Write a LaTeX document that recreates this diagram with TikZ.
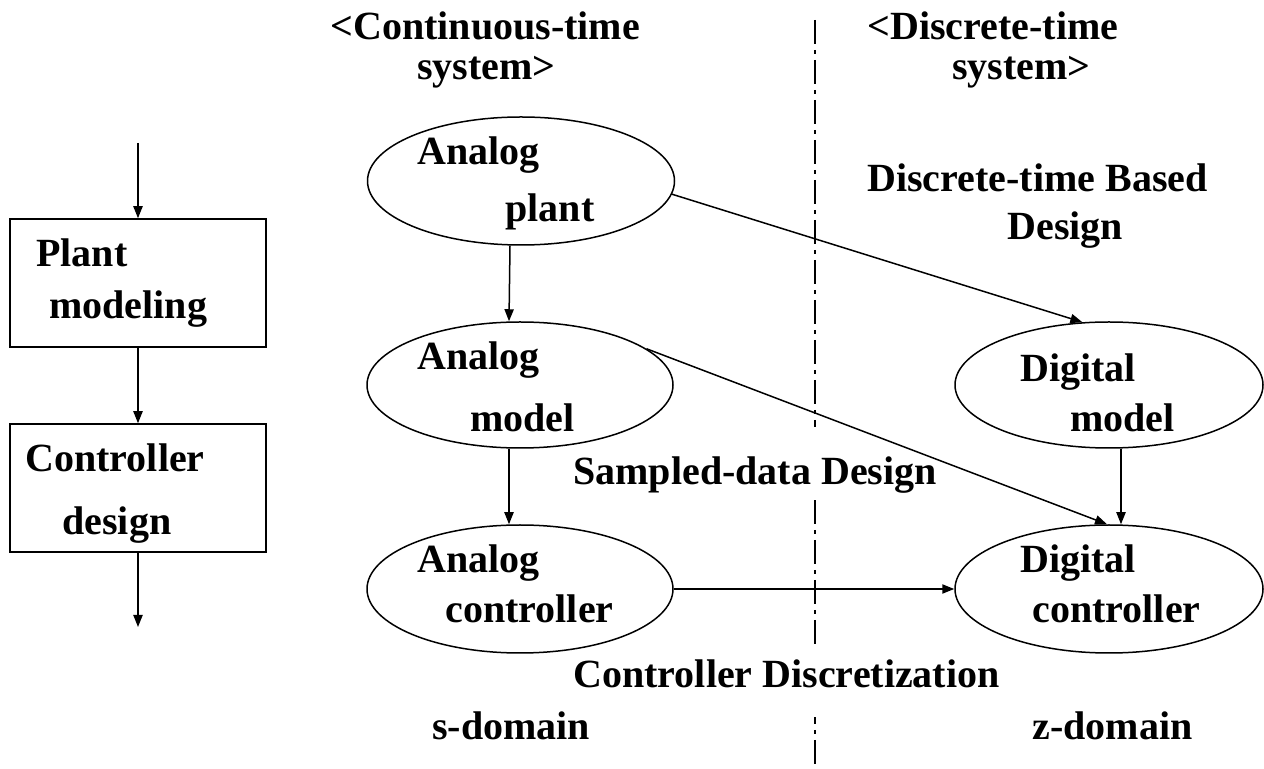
\documentclass[tikz,border=0pt]{standalone}
\usepackage{fontspec}
\setmainfont{Liberation Serif}
\usetikzlibrary{shapes.geometric,arrows.meta}
\tikzset{
  lbl/.style={inner sep=0pt, anchor=base west, font=\fontsize{20pt}{24pt}\selectfont\bfseries},
  knock/.style={fill=white},
  oval/.style={draw, ellipse, line width=0.75pt, inner sep=0pt},
  blk/.style={draw, rectangle, line width=0.75pt, inner sep=0pt},
  arr/.style={line width=0.75pt, -{Triangle[length=6pt,width=4.6pt]}},
  divider/.style={line width=0.75pt, dash pattern=on 12pt off 3pt on 2pt off 3pt}
}
\begin{document}
\begin{tikzpicture}[x=0.5pt, y=-0.5pt]
\useasboundingbox (0,0) rectangle (1264,769);
% divider
\coordinate (dtop) at (815,20);
\coordinate (dbot) at (815,769);
\draw[divider] (dtop) -- (dbot);
% labels that mask the divider
\node[lbl, knock, text height=29pt, text depth=7.5pt] (l2) at (573,485) {Sampled-data Design};
\node[lbl, knock, text height=20pt, text depth=14.5pt] (l3) at (573,688) {Controller Discretization};
% left column
\coordinate (in) at (138,143);
\coordinate (out) at (138,627);
\node[blk, minimum width=128pt, minimum height=64pt] (b1) at (138,283) {};
\node[blk, minimum width=128pt, minimum height=64pt] (b2) at (138,488) {};
\node[lbl] (b1a) at (36,267) {Plant};
\node[lbl] (b1b) at (49,319) {modeling};
\node[lbl] (b2a) at (25,472) {Controller};
\node[lbl] (b2b) at (62,535) {design};
\draw[arr] (in) -- (b1.north);
\draw[arr] (b1.south) -- (b2.north);
\draw[arr] (b2.south) -- (out);
% ellipses
\node[oval, minimum width=153.5pt, minimum height=64pt] (ap) at (521,181) {};
\node[oval, minimum width=153pt, minimum height=63pt] (am) at (520,385) {};
\node[oval, minimum width=153pt, minimum height=64pt] (ac) at (520,589) {};
\node[oval, minimum width=154pt, minimum height=63pt] (dm) at (1109,385) {};
\node[oval, minimum width=154pt, minimum height=64pt] (dc) at (1109,589) {};
% ellipse texts
\node[lbl] (apa) at (417,165) {Analog};
\node[lbl] (apb) at (505,222) {plant};
\node[lbl] (ama) at (417,370) {Analog};
\node[lbl] (amb) at (470,432) {model};
\node[lbl] (aca) at (417,573) {Analog};
\node[lbl] (acb) at (445,623) {controller};
\node[lbl] (dma) at (1020,382) {Digital};
\node[lbl] (dmb) at (1070,432) {model};
\node[lbl] (dca) at (1020,573) {Digital};
\node[lbl] (dcb) at (1032,623) {controller};
% headings and labels
\node[lbl] (h1a) at (330,40) {<Continuous-time};
\node[lbl] (h1b) at (417,80) {system>};
\node[lbl] (h2a) at (867,40) {<Discrete-time};
\node[lbl] (h2b) at (952,80) {system>};
\node[lbl] (l1a) at (867,192) {Discrete-time Based};
\node[lbl] (l1b) at (1007,240) {Design};
\node[lbl] (sd) at (432,740) {s-domain};
\node[lbl] (zd) at (1032,740) {z-domain};
% connectors
\draw[arr] ([xshift=-5.5pt]ap.south) -- ([xshift=-5.5pt]am.north);
\draw[arr] ([xshift=-5.5pt]am.south) -- ([xshift=-5.5pt]ac.north);
\draw[arr] (ap.-5) -- (dm.113.5);
\draw[arr] (am.16.5) -- ([xshift=-1pt]dc.north);
\draw[arr] ([xshift=6pt]dm.south) -- ([xshift=6pt]dc.north);
\draw[arr] (ac.east) -- (dc.west);
\end{tikzpicture}
\end{document}
